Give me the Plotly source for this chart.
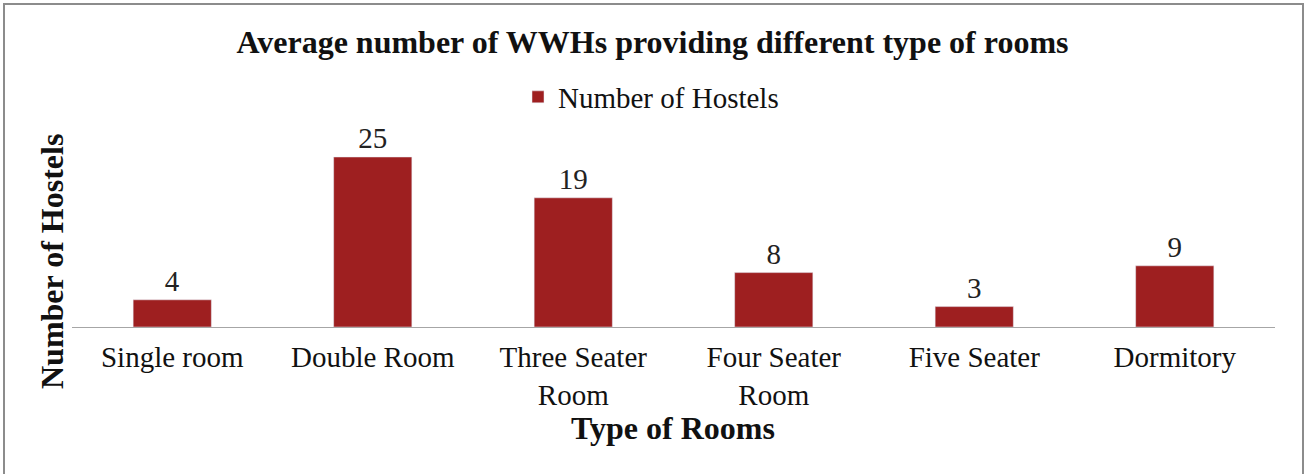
import plotly.graph_objects as go

categories = ["Single room", "Double Room", "Three Seater<br>Room", "Four Seater<br>Room", "Five Seater", "Dormitory"]
values = [4, 25, 19, 8, 3, 9]
series_name = "Number of Hostels"

FONT = "Liberation Serif"
W, H = 1311, 474
L, R, T, B = 72, 1311 - 1275, 123, 474 - 327

def px_x(px):
    return (px - L) / (W - L - R)

def px_y(py):
    return (H - B - py) / (H - T - B)

fig = go.Figure()
fig.add_trace(go.Bar(
    x=categories, y=values, name=series_name,
    marker=dict(color="#9e1f20"),
    width=0.39,
    text=[str(v) for v in values], textposition="outside",
    textfont=dict(family=FONT, size=29, color="#222222"),
    cliponaxis=False,
    showlegend=True,
))

fig.update_layout(
    width=W, height=H,
    margin=dict(l=L, r=R, t=T, b=B, autoexpand=False),
    paper_bgcolor="white", plot_bgcolor="white",
    font=dict(family=FONT, size=29, color="#111111"),
    title=dict(
        text="<b>Average number of WWHs providing different type of rooms</b>",
        x=652.5 / W, xanchor="center", xref="container",
        y=1 - 42 / H, yanchor="middle", yref="container",
        font=dict(family=FONT, size=32, color="#111111"),
    ),
    showlegend=True,
    legend=dict(
        orientation="h", x=px_x(651), xanchor="center",
        y=px_y(97), yanchor="middle",
        font=dict(family=FONT, size=29, color="#111111"),
        bgcolor="rgba(0,0,0,0)",
    ),
    xaxis=dict(
        showline=True, linecolor="#a6a6a6", linewidth=1,
        ticks="", showgrid=False, zeroline=False,
        ticklabelstandoff=4,
        tickfont=dict(family=FONT, size=29, color="#111111"),
    ),
    yaxis=dict(
        range=[0, 30], visible=False, showgrid=False, zeroline=False,
    ),
    bargap=0.61,
)

fig.add_annotation(
    text="<b>Type of Rooms</b>", xref="paper", yref="paper",
    x=px_x(673), y=px_y(428), xanchor="center", yanchor="middle",
    showarrow=False, font=dict(family=FONT, size=32, color="#111111"),
)
fig.add_annotation(
    text="<b>Number of Hostels</b>", xref="paper", yref="paper",
    x=px_x(52), y=px_y(262), xanchor="center", yanchor="middle",
    textangle=-90,
    showarrow=False, font=dict(family=FONT, size=32, color="#111111"),
)
fig.add_shape(
    type="rect", xref="paper", yref="paper",
    x0=px_x(4), x1=px_x(1303), y0=px_y(480), y1=px_y(4),
    line=dict(color="#8c8c8c", width=2), fillcolor="rgba(0,0,0,0)",
    layer="below",
)

fig.write_html("out.html", config={"displayModeBar": False},
               post_script="document.body.style.margin='0';")
